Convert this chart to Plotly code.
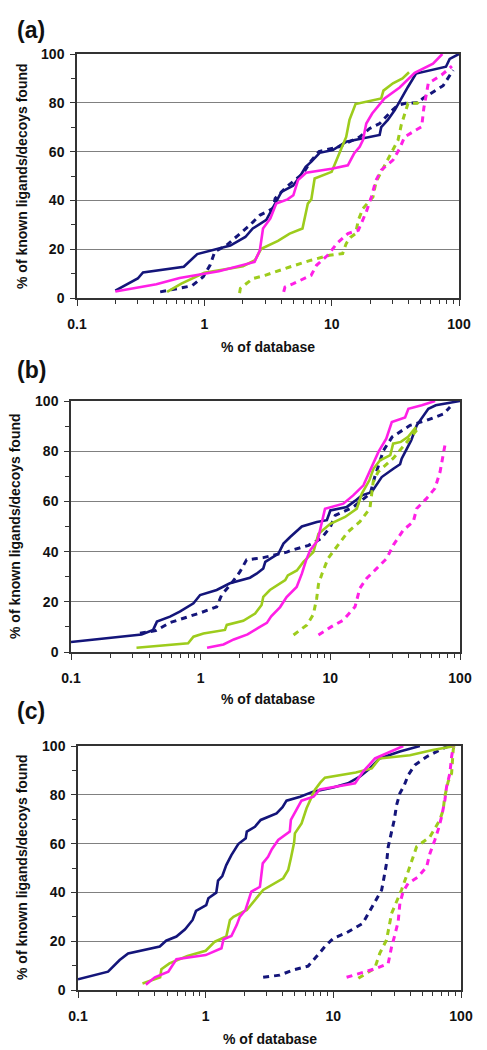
import plotly.graph_objects as go

# ---------------- Panel (a) ----------------
A_NAVY_SOLID_X = [0.2, 0.30, 0.33, 0.69, 0.88, 1.2, 1.6, 2.1, 2.4, 3.07, 3.46, 4.03, 4.97, 5.6, 6.25, 6.9, 8.05, 10.2, 13, 23.8, 24.5, 27.6, 31.3, 35.2, 39.8, 46, 79, 84.5, 100]
A_NAVY_SOLID_Y = [3, 8, 10.5, 12.8, 18, 19.8, 21.5, 25, 28.5, 32, 37, 43.5, 46, 49.6, 53.8, 55.8, 59.5, 60.6, 64, 66.8, 70, 73, 77, 81.8, 86.6, 92, 94.8, 98, 100]
A_NAVY_DASH_X = [0.45, 0.6, 0.8, 0.98, 1.11, 1.21, 1.5, 1.85, 2.28, 2.74, 3.46, 3.6, 4.4, 5.96, 6.8, 7.95, 11.4, 14.7, 16.6, 19.9, 23.8, 30, 33, 38, 48, 52, 75, 90]
A_NAVY_DASH_Y = [2.5, 3.8, 5, 8.7, 13.5, 19, 21.7, 25.8, 29.9, 34, 36.7, 40.8, 45.5, 51, 55.8, 60, 62, 64.7, 66, 69.5, 71.5, 77, 79, 79.8, 80, 81.8, 87, 93.4]
A_MAG_SOLID_X = [0.2, 0.42, 0.64, 1.0, 1.3, 2.48, 2.73, 2.89, 3.3, 3.67, 4.5, 5.0, 5.44, 6.3, 10, 13.4, 15, 16.6, 17.6, 18.7, 20.8, 26, 34.2, 44.9, 62.5, 74]
A_MAG_SOLID_Y = [2.7, 5.6, 8.2, 10, 11, 14.8, 19.6, 28.5, 32.6, 38.7, 40.4, 42.1, 48.3, 51.3, 53, 54.4, 59.2, 62, 64.7, 71.5, 75.6, 81.8, 86.3, 92.3, 96, 100]
A_GRN_SOLID_X = [0.51, 0.66, 1.0, 2.01, 2.5, 2.8, 3.79, 4.68, 5.9, 6.5, 6.92, 7.35, 10, 11.6, 13, 13.8, 15.4, 24.5, 25.5, 30.3, 36, 40.5]
A_GRN_SOLID_Y = [2.5, 5.9, 10.3, 13, 15.5, 20.2, 23.4, 26.4, 28.5, 38.7, 40.4, 49, 51.7, 60, 66, 73, 79.5, 81.8, 85, 88, 90, 92.5]
A_GRN_DASH_X = [1.89, 1.92, 2.41, 3.0, 4.68, 6.9, 9.6, 12.2, 13, 14, 15.4, 16.2, 17.6, 21.1, 22.3, 25.3, 28.5, 33.2, 35.2, 37.4, 39.8, 47, 50]
A_GRN_DASH_Y = [2, 4, 8, 9.3, 12.7, 15.5, 17.5, 18.2, 22.3, 24.8, 26.4, 31.9, 36.7, 41.4, 47.6, 53, 57.9, 64.7, 70.9, 75.6, 79.8, 79.8, 81]
A_MAG_DASH_X = [4.2, 4.3, 5.0, 6.0, 6.9, 7.6, 8.5, 9.3, 11.1, 13.4, 16.2, 18.7, 20.5, 22.3, 24.5, 30.3, 34.2, 37.4, 43.5, 50.9, 53, 57.4, 73, 88]
A_MAG_DASH_Y = [2.5, 4.5, 5.9, 8, 9.3, 13.4, 15.5, 17.5, 22.6, 26.4, 27.8, 35.3, 41.4, 48.3, 52.4, 56.5, 61.3, 66, 68.1, 70.2, 78, 88, 91.4, 95]

# ---------------- Panel (b) ----------------
B_NAVY_SOLID_X = [0.1, 0.35, 0.43, 0.46, 0.58, 0.69, 0.88, 0.99, 1.33, 1.68, 2.4, 2.7, 3.04, 3.15, 3.98, 4.35, 4.9, 6.03, 7.87, 9.4, 10, 13.4, 15.5, 17.5, 20.8, 22.9, 24.9, 30.6, 34.5, 35.5, 38.8, 42, 46.4, 57, 65, 100]
B_NAVY_SOLID_Y = [4, 7, 8.8, 12.1, 14.1, 16.1, 19.4, 22.7, 24.7, 27.4, 29.6, 31.2, 33.3, 35.9, 39.2, 43.2, 45.8, 50, 51.8, 52.5, 56.4, 57.8, 60.2, 62.4, 63.7, 67, 69.7, 73, 74.8, 77, 81, 84.3, 90.3, 96.9, 98.3, 100]
B_NAVY_DASH_X = [0.34, 0.45, 0.58, 0.78, 1.02, 1.33, 1.45, 1.73, 2.01, 2.26, 3.04, 4.62, 5.0, 6.8, 8.5, 10, 10.9, 15.1, 20.3, 22, 25.7, 30, 41.2, 55.4, 75, 83.8]
B_NAVY_DASH_Y = [7.5, 8.5, 11.7, 13.7, 15.8, 18, 22.7, 27.4, 32, 36.7, 37.6, 39.8, 40.5, 42.5, 45.2, 49.8, 54.4, 57.8, 63.1, 69.7, 80.3, 85.7, 90.3, 92.3, 94.9, 97.6]
B_GRN_SOLID_X = [0.32, 0.8, 0.88, 1.05, 1.54, 1.59, 2.13, 2.63, 2.95, 3.04, 3.42, 4.49, 4.7, 5.52, 6.2, 7.4, 8.1, 10, 13, 16, 17.5, 20, 21.5, 24.2, 29, 30.5, 35, 39.8, 45.8]
B_GRN_SOLID_Y = [1.7, 3.5, 6.1, 7.4, 8.8, 10.8, 12.4, 15.3, 18.7, 22, 24.7, 28.6, 30.5, 32.5, 35.9, 39.8, 47.1, 51.1, 53.8, 57.1, 63.1, 68.4, 73, 76.4, 78.4, 83, 83.7, 85.7, 89.6]
B_MAG_SOLID_X = [1.12, 1.5, 1.8, 2.3, 2.8, 3.24, 3.5, 4.1, 4.6, 5.5, 6.03, 6.5, 6.98, 8, 8.5, 9.1, 12.6, 15, 18, 20, 22, 23.5, 27, 29.8, 37.7, 40, 50.7, 64.3]
B_MAG_SOLID_Y = [1.7, 3, 5, 7, 9.7, 11.6, 14.2, 17.9, 21.9, 25.9, 31.2, 36.5, 40.5, 44.5, 50.5, 57.1, 59.1, 62.4, 66.4, 71.7, 76.4, 79.7, 85, 91.6, 93.4, 96.9, 98.3, 100]
B_GRN_DASH_X = [5.2, 6.6, 7.4, 7.85, 8.1, 8.6, 9.6, 11.2, 13.7, 16.9, 20.2, 21.4, 23.4, 30.6, 38, 46.4]
B_GRN_DASH_Y = [6.8, 10.8, 15, 21.4, 27, 31, 37.3, 42, 47.9, 51.9, 57.2, 67.8, 71.8, 77.2, 83, 88.4]
B_MAG_DASH_X = [8.1, 10.2, 12.6, 15.5, 16.9, 19.1, 22.8, 27.2, 30.6, 36.6, 43.6, 46.4, 55.3, 64.1, 70.2, 74.3, 76.6]
B_MAG_DASH_Y = [6.8, 10.1, 12.7, 18, 25.4, 29.4, 33.3, 37.3, 42.6, 48.6, 51.9, 57.2, 61.2, 65.2, 71.8, 78.5, 82.5]

# ---------------- Panel (c) ----------------
C_NAVY_SOLID_X = [0.1, 0.172, 0.212, 0.247, 0.437, 0.49, 0.59, 0.69, 0.79, 0.84, 1.01, 1.05, 1.21, 1.25, 1.35, 1.45, 1.59, 1.8, 2.06, 2.1, 2.43, 2.7, 3.59, 4.0, 4.3, 5.5, 6.95, 9.97, 13, 16.1, 19.3, 23, 33.2, 47.6]
C_NAVY_SOLID_Y = [4.4, 7.5, 12.3, 15, 17.8, 20.2, 21.9, 24.9, 28.7, 32.4, 34.8, 37.6, 39.9, 44.8, 46.7, 51.2, 55.3, 59.8, 62.2, 64.9, 66.9, 69.7, 72.4, 74.9, 77.6, 79.2, 81.3, 83, 84.7, 87.4, 90.8, 94.9, 97.7, 100]
C_MAG_SOLID_X = [0.34, 0.4, 0.51, 0.59, 1.0, 1.33, 1.38, 1.59, 1.75, 1.85, 2.05, 2.28, 2.66, 2.8, 3.08, 3.3, 3.7, 4.56, 4.65, 5.1, 5.63, 7, 7.84, 14.8, 17.1, 21.2, 27.7, 35.3]
C_MAG_SOLID_Y = [2.2, 5.2, 7.5, 12.6, 14.3, 17.1, 20.8, 22.1, 26.6, 30, 32.8, 40.3, 42.3, 51.9, 54.6, 57.7, 61.5, 64.9, 69.7, 73.5, 77.6, 79.2, 82.2, 84.7, 89.5, 94.9, 97.7, 100]
C_GRN_SOLID_X = [0.32, 0.44, 0.45, 0.52, 0.72, 1.0, 1.18, 1.45, 1.55, 1.65, 2.1, 2.5, 2.82, 4.05, 4.43, 4.65, 4.93, 5.0, 5.64, 6.17, 6.5, 7.16, 7.9, 8.59, 15, 20, 23, 39.8, 60, 90]
C_GRN_SOLID_Y = [2.7, 5.2, 8.5, 10.9, 13.9, 16.1, 19.8, 21.9, 28.7, 30, 32.8, 37.6, 41, 45.8, 49.2, 54, 60.4, 64.2, 68.3, 74.5, 77.2, 82, 85, 87, 89.1, 90.8, 94.9, 96.2, 98.4, 100]
C_NAVY_DASH_X = [2.82, 3.81, 4.84, 6.35, 7.38, 8.59, 10, 12.7, 17, 18.2, 21.8, 23.9, 25, 26.1, 26.9, 28.5, 30, 31.3, 33.2, 36, 38.6, 43.5, 53.8, 68.4, 80]
C_NAVY_DASH_Y = [5.2, 6.1, 8.2, 9.8, 13.7, 17.8, 21.2, 23.5, 27.3, 30, 36.9, 41, 46.4, 51.9, 58.7, 64.2, 69.7, 75.8, 80.6, 84, 88.1, 92.2, 95.6, 98.4, 100]
C_GRN_DASH_X = [15.7, 18, 21.1, 23.1, 26.1, 28.6, 34.2, 38.5, 44.9, 57.1, 68.3, 72.5, 74.6, 79.3, 84.4, 86.9, 88]
C_GRN_DASH_Y = [4.8, 6.8, 8.9, 15, 20.5, 31.4, 41, 48.5, 58.7, 62.8, 69.7, 73.8, 79.2, 85.4, 88.8, 98.4, 100]
C_MAG_DASH_X = [12.7, 16.1, 21.8, 26.9, 28.6, 30.3, 32.2, 33.2, 35.2, 38.5, 46.2, 53.8, 57.1, 62.4, 66.2, 70.5, 74.8, 77.1, 81.8, 84.4, 86.9]
C_MAG_DASH_Y = [5.2, 6.8, 8.9, 10.9, 17.7, 22.5, 28, 35.5, 40.3, 43.7, 46.4, 50.5, 56, 61.5, 65.6, 71, 77.9, 83.3, 88.8, 95.6, 99.7]

PANEL_LABELS = ["(a)", "(b)", "(c)"]
X_TICKS = [0.1, 1, 10, 100]
X_TICK_TEXT = ["0.1", "1", "10", "100"]
Y_TICKS = [0, 20, 40, 60, 80, 100]
X_TITLE = "% of database"
Y_TITLE = "% of known ligands/decoys found"

NAVY = "#14157a"
MAGENTA = "#ff1fe6"
GREEN = "#9dcc1c"
DASH = "6px,5px"

panels = [
    [(A_NAVY_SOLID_X, A_NAVY_SOLID_Y, NAVY, "solid"), (A_NAVY_DASH_X, A_NAVY_DASH_Y, NAVY, DASH),
     (A_GRN_SOLID_X, A_GRN_SOLID_Y, GREEN, "solid"), (A_GRN_DASH_X, A_GRN_DASH_Y, GREEN, DASH),
     (A_MAG_DASH_X, A_MAG_DASH_Y, MAGENTA, DASH), (A_MAG_SOLID_X, A_MAG_SOLID_Y, MAGENTA, "solid")],
    [(B_NAVY_SOLID_X, B_NAVY_SOLID_Y, NAVY, "solid"), (B_NAVY_DASH_X, B_NAVY_DASH_Y, NAVY, DASH),
     (B_GRN_SOLID_X, B_GRN_SOLID_Y, GREEN, "solid"), (B_GRN_DASH_X, B_GRN_DASH_Y, GREEN, DASH),
     (B_MAG_DASH_X, B_MAG_DASH_Y, MAGENTA, DASH), (B_MAG_SOLID_X, B_MAG_SOLID_Y, MAGENTA, "solid")],
    [(C_NAVY_SOLID_X, C_NAVY_SOLID_Y, NAVY, "solid"), (C_NAVY_DASH_X, C_NAVY_DASH_Y, NAVY, DASH),
     (C_GRN_SOLID_X, C_GRN_SOLID_Y, GREEN, "solid"), (C_GRN_DASH_X, C_GRN_DASH_Y, GREEN, DASH),
     (C_MAG_DASH_X, C_MAG_DASH_Y, MAGENTA, DASH), (C_MAG_SOLID_X, C_MAG_SOLID_Y, MAGENTA, "solid")],
]

W, H = 487, 1050
# plot-area pixel boxes (left, right, top, bottom)
boxes = [(77, 459, 54, 298), (71, 460, 401, 652), (78, 461, 746, 990)]
label_pos = [(31, 30), (31, 370), (31, 711)]
ytitle_pos = [(22, 176), (15, 526), (22, 867)]
xtitle_pos = [(268, 347), (268, 699), (270, 1039)]

FONT = "Liberation Sans, Arial, sans-serif"

fig = go.Figure()
layout = dict(
    width=W, height=H, margin=dict(l=0, r=0, t=0, b=0, autoexpand=False),
    paper_bgcolor="white", plot_bgcolor="white", showlegend=False,
    font=dict(family=FONT, color="#111"),
)
annotations = []
for i, (series, box) in enumerate(zip(panels, boxes)):
    sfx = "" if i == 0 else str(i + 1)
    for xs, ys, col, dash in series:
        fig.add_trace(go.Scatter(
            x=xs, y=ys, mode="lines", xaxis="x" + sfx, yaxis="y" + sfx,
            line=dict(color=col, width=2.6 if dash == "solid" else 3, dash=dash),
            hoverinfo="skip"))
    l, r, t, b = box
    layout["xaxis" + sfx] = dict(
        type="log", range=[-1, 2], domain=[l / W, r / W], anchor="y" + sfx, automargin=False,
        tickvals=X_TICKS, ticktext=X_TICK_TEXT, ticks="outside", ticklen=6,
        tickcolor="#333", tickwidth=1, ticklabelstandoff=6,
        minor=dict(ticks="outside", ticklen=4, tickcolor="#333", dtick="D1", showgrid=False),
        showgrid=False, showline=True, linecolor="#333", linewidth=1.5, mirror=True,
        tickfont=dict(family=FONT, size=14, color="#111", weight="bold"), zeroline=False,
    )
    layout["yaxis" + sfx] = dict(
        range=[0, 100], domain=[1 - b / H, 1 - t / H], anchor="x" + sfx, automargin=False,
        tickvals=Y_TICKS, ticks="outside", ticklen=5, tickcolor="#333", ticklabelstandoff=3,
        minor=dict(ticks="outside", ticklen=4, tickcolor="#333", dtick=10, showgrid=False),
        showgrid=True, gridcolor="#808080", gridwidth=1,
        showline=True, linecolor="#333", linewidth=1.5, mirror=True, zeroline=False,
        tickfont=dict(family=FONT, size=14, color="#111", weight="bold"),
    )
    lx, ly = label_pos[i]
    annotations.append(dict(text="<b>" + PANEL_LABELS[i] + "</b>", x=lx / W, y=1 - ly / H,
                            xref="paper", yref="paper", showarrow=False,
                            xanchor="center", yanchor="middle",
                            font=dict(family=FONT, size=23, color="#111")))
    tx, ty = ytitle_pos[i]
    annotations.append(dict(text="<b>" + Y_TITLE + "</b>", x=tx / W, y=1 - ty / H,
                            xref="paper", yref="paper", showarrow=False, textangle=-90,
                            xanchor="center", yanchor="middle",
                            font=dict(family=FONT, size=14, color="#111")))
    xx, xy = xtitle_pos[i]
    annotations.append(dict(text="<b>" + X_TITLE + "</b>", x=xx / W, y=1 - xy / H,
                            xref="paper", yref="paper", showarrow=False,
                            xanchor="center", yanchor="middle",
                            font=dict(family=FONT, size=14, color="#111")))
layout["annotations"] = annotations
fig.update_layout(**layout)
fig.write_html(
    "out.html",
    config={"displayModeBar": False},
    post_script="document.body.style.margin='0px';document.body.style.overflow='hidden';",
)
